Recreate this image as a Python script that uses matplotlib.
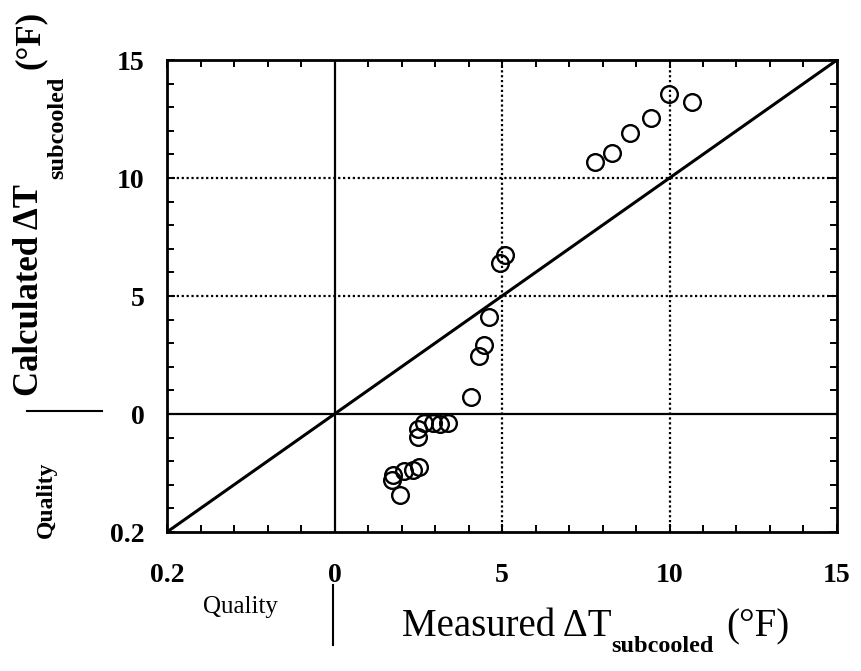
import matplotlib
matplotlib.use("Agg")
import matplotlib.pyplot as plt
from matplotlib.ticker import MultipleLocator

plt.rcParams['font.family'] = ['Liberation Serif', 'DejaVu Serif']

# axis runs from quality 0.2 (drawn at -5) through 0 to 15 degF
tick_pos = [-5, 0, 5, 10, 15]
tick_labels = ["0.2", "0", "5", "10", "15"]

# measured vs calculated subcooling (negative part = quality region)
measured = [7.78, 8.28, 8.81, 9.46, 9.99, 10.67,
            5.10, 4.93, 4.60, 4.45, 4.30, 4.06,
            2.50, 2.66, 2.95, 3.16, 3.40, 2.50,
            1.76, 1.73, 2.06, 2.33, 2.51, 1.97]
calculated = [10.68, 11.06, 11.91, 12.54, 13.56, 13.22,
              6.74, 6.40, 4.11, 2.92, 2.46, 0.72,
              -0.64, -0.38, -0.38, -0.42, -0.38, -0.97,
              -2.58, -2.80, -2.42, -2.37, -2.25, -3.43]
diag = [-5, 15]

W, H = 862, 671
fig = plt.figure(figsize=(W / 100, H / 100), dpi=100)
ax = fig.add_axes([167 / W, 1 - 532 / H, (837 - 167) / W, (532 - 60) / H])

ax.set_xlim(-5, 15)
ax.set_ylim(-5, 15)

# grid: solid at 0, dotted at 5 and 10
ax.axvline(0, color="black", lw=1.6, zorder=1)
ax.axhline(0, color="black", lw=1.6, zorder=1)
for v in [5, 10]:
    ax.axvline(v, color="black", lw=1.6, ls=(0, (1, 1.2)), zorder=1)
    ax.axhline(v, color="black", lw=1.6, ls=(0, (1, 1.2)), zorder=1)

ax.plot(diag, diag, color="black", lw=2.2, zorder=2)
ax.plot(measured, calculated, "o", mfc="none", mec="black", ms=12, mew=1.7, zorder=3)

ax.set_xticks(tick_pos)
ax.set_xticklabels(tick_labels)
ax.set_yticks(tick_pos)
ax.set_yticklabels(tick_labels)
ax.xaxis.set_minor_locator(MultipleLocator(1))
ax.yaxis.set_minor_locator(MultipleLocator(1))
ax.tick_params(which="both", direction="in", top=True, right=True, width=1.4)
ax.tick_params(which="major", length=6)
ax.tick_params(which="minor", length=5)
ax.tick_params(axis="x", pad=22, labelsize=20)
ax.tick_params(axis="y", pad=16, labelsize=20)
for lab in ax.get_xticklabels() + ax.get_yticklabels():
    lab.set_fontweight("bold")
for s in ax.spines.values():
    s.set_linewidth(2.0)

# axis titles built from pieces so the subscript sits low like the original
def px(x, y):
    return x / W, 1 - y / H

fig.text(*px(507, 627), "Measured \u0394T", fontsize=28, ha="center", va="center")
fig.text(*px(662, 646), "subcooled", fontsize=17.5, fontweight="bold", ha="center", va="center")
fig.text(*px(758, 627), "(\u00b0F)", fontsize=28, ha="center", va="center")
fig.text(*px(240, 607), "Quality", fontsize=18, ha="center", va="center")
fig.add_artist(plt.Line2D([333 / W, 333 / W], [1 - 585 / H, 1 - 645 / H], color="black", lw=1.5))

fig.text(*px(30, 290), "Calculated \u0394T", fontsize=25, fontweight="bold",
         rotation=90, ha="center", va="center")
fig.text(*px(58, 128), "subcooled", fontsize=17.5, fontweight="bold",
         rotation=90, ha="center", va="center")
fig.text(*px(30, 40), "(\u00b0F)", fontsize=25, fontweight="bold",
         rotation=90, ha="center", va="center")
fig.text(*px(46, 500), "Quality", fontsize=17, fontweight="bold",
         rotation=90, ha="center", va="center")
fig.add_artist(plt.Line2D([27 / W, 102 / W], [1 - 411 / H, 1 - 411 / H], color="black", lw=1.5))

fig.savefig("out.png", dpi=100)
